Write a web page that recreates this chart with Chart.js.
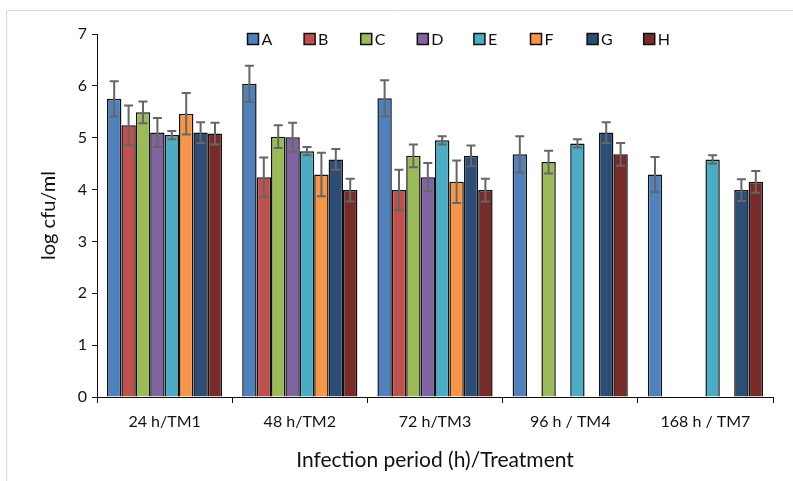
<!DOCTYPE html>
<html>
<head>
<meta charset="utf-8">
<script src="https://cdn.jsdelivr.net/npm/chart.js@4/dist/chart.umd.min.js"></script>
<style>
  html, body { margin: 0; padding: 0; background: #fff; }
  #wrap { width: 793px; height: 481px; position: relative; }
</style>
</head>
<body>
<div id="wrap"><canvas id="barChart" width="793" height="481"></canvas></div>
<script>
// categories
const periods = ["24 h/TM1", "48 h/TM2", "72 h/TM3", "96 h / TM4", "168 h / TM7"];
const yTicks = [0, 1, 2, 3, 4, 5, 6, 7];

// log cfu/ml per treatment (null = not measured)
const seriesA = [5.75, 6.04, 5.76, 4.68, 4.29];
const seriesB = [5.24, 4.24, 3.99, null, null];
const seriesC = [5.49, 5.02, 4.65, 4.53, null];
const seriesD = [5.10, 5.01, 4.24, null, null];
const seriesE = [5.05, 4.74, 4.95, 4.89, 4.58];
const seriesF = [5.46, 4.29, 4.15, null, null];
const seriesG = [5.10, 4.58, 4.65, 5.10, 3.99];
const seriesH = [5.08, 3.99, 3.99, 4.68, 4.15];

// error bar half-heights
const errA = [0.34, 0.35, 0.35, 0.35, 0.34];
const errB = [0.38, 0.38, 0.39, null, null];
const errC = [0.21, 0.22, 0.22, 0.22, null];
const errD = [0.28, 0.28, 0.27, null, null];
const errE = [0.08, 0.08, 0.08, 0.08, 0.08];
const errF = [0.40, 0.42, 0.41, null, null];
const errG = [0.20, 0.20, 0.20, 0.20, 0.21];
const errH = [0.21, 0.22, 0.22, 0.22, 0.21];

const seriesNames = ["A", "B", "C", "D", "E", "F", "G", "H"];
const seriesValues = [seriesA, seriesB, seriesC, seriesD, seriesE, seriesF, seriesG, seriesH];
const seriesErrors = [errA, errB, errC, errD, errE, errF, errG, errH];
const seriesColors = ["#4F81BD", "#C0504D", "#9BBB59", "#8064A2", "#4BACC6", "#F79646", "#2C4D75", "#772C2A"];

const FONT = "Lato, 'Liberation Sans', sans-serif";

// whisker lines on every bar
const errorBarsPlugin = {
  id: "errorBars",
  afterDatasetsDraw(chart) {
    const ctx = chart.ctx;
    const yScale = chart.scales.y;
    ctx.save();
    ctx.strokeStyle = "#666";
    ctx.lineWidth = 2;
    chart.data.datasets.forEach((ds, i) => {
      const meta = chart.getDatasetMeta(i);
      meta.data.forEach((bar, j) => {
        const v = ds.data[j];
        const e = ds.errors[j];
        if (v == null || e == null) return;
        const top = yScale.getPixelForValue(v + e);
        const bottom = yScale.getPixelForValue(v - e);
        const cap = 4.5;
        ctx.beginPath();
        ctx.moveTo(bar.x, top);
        ctx.lineTo(bar.x, bottom);
        ctx.moveTo(bar.x - cap, top);
        ctx.lineTo(bar.x + cap, top);
        ctx.moveTo(bar.x - cap, bottom);
        ctx.lineTo(bar.x + cap, bottom);
        ctx.stroke();
      });
    });
    ctx.restore();
  },
};

// legend sits inside the plot, at the top
const insideLegendPlugin = {
  id: "insideLegend",
  afterDraw(chart) {
    const ctx = chart.ctx;
    const startX = 247.5;
    const step = 56.6;
    const cy = 39;
    const box = 11;
    ctx.save();
    ctx.font = "16px " + FONT;
    ctx.textBaseline = "middle";
    chart.data.datasets.forEach((ds, i) => {
      const x = startX + i * step;
      ctx.fillStyle = ds.backgroundColor;
      ctx.fillRect(x, cy - box / 2, box, box);
      ctx.strokeStyle = "#111";
      ctx.lineWidth = 1.5;
      ctx.strokeRect(x, cy - box / 2, box, box);
      ctx.fillStyle = "#111";
      ctx.fillText(ds.label, x + box + 3, cy + 1);
    });
    ctx.restore();
  },
};

// light frame on the top and left edges
const framePlugin = {
  id: "frame",
  beforeDraw(chart) {
    const ctx = chart.ctx;
    ctx.save();
    ctx.fillStyle = "#fff";
    ctx.fillRect(0, 0, chart.width, chart.height);
    ctx.strokeStyle = "#d9d9d9";
    ctx.lineWidth = 1;
    ctx.beginPath();
    ctx.moveTo(6.5, chart.height);
    ctx.lineTo(6.5, 10.5);
    ctx.lineTo(chart.width, 10.5);
    ctx.stroke();
    ctx.restore();
  },
};

document.addEventListener("DOMContentLoaded", function () {
  const ctx = document.getElementById("barChart").getContext("2d");

  new Chart(ctx, {
    type: "bar",
    data: {
      labels: periods,
      datasets: seriesNames.map((name, i) => ({
        label: name,
        data: seriesValues[i],
        errors: seriesErrors[i],
        backgroundColor: seriesColors[i],
        borderColor: "#111",
        borderWidth: 1.5,
        categoryPercentage: 0.852,
        barPercentage: 1.0,
      })),
    },
    options: {
      responsive: false,
      animation: false,
      layout: { padding: { left: 37, top: 34, right: 20, bottom: 8 } },
      plugins: {
        legend: { display: false },
        tooltip: { enabled: false },
      },
      scales: {
        y: {
          min: 0,
          max: 7,
          afterBuildTicks: (scale) => {
            scale.ticks = yTicks.map((v) => ({ value: v }));
          },
          afterFit: (scale) => {
            scale.width = 60;
          },
          border: { color: "#111", width: 1 },
          grid: { drawOnChartArea: false, drawTicks: true, tickLength: 5, color: "#111" },
          ticks: { color: "#111", padding: 5, font: { family: FONT, size: 16 } },
          title: {
            display: true,
            text: "log cfu/ml",
            color: "#111",
            font: { family: FONT, size: 20 },
            padding: { top: 0, bottom: 4 },
          },
        },
        x: {
          afterFit: (scale) => {
            scale.height = 76;
          },
          border: { color: "#111", width: 1 },
          grid: { offset: true, drawOnChartArea: false, drawTicks: true, tickLength: 6, color: "#111" },
          ticks: { color: "#111", padding: 9, maxRotation: 0, font: { family: FONT, size: 16 } },
          title: {
            display: true,
            text: "Infection period (h)/Treatment",
            color: "#111",
            font: { family: FONT, size: 21 },
            padding: { top: 8, bottom: 0 },
          },
        },
      },
    },
    plugins: [framePlugin, errorBarsPlugin, insideLegendPlugin],
  });
});
</script>
</body>
</html>
